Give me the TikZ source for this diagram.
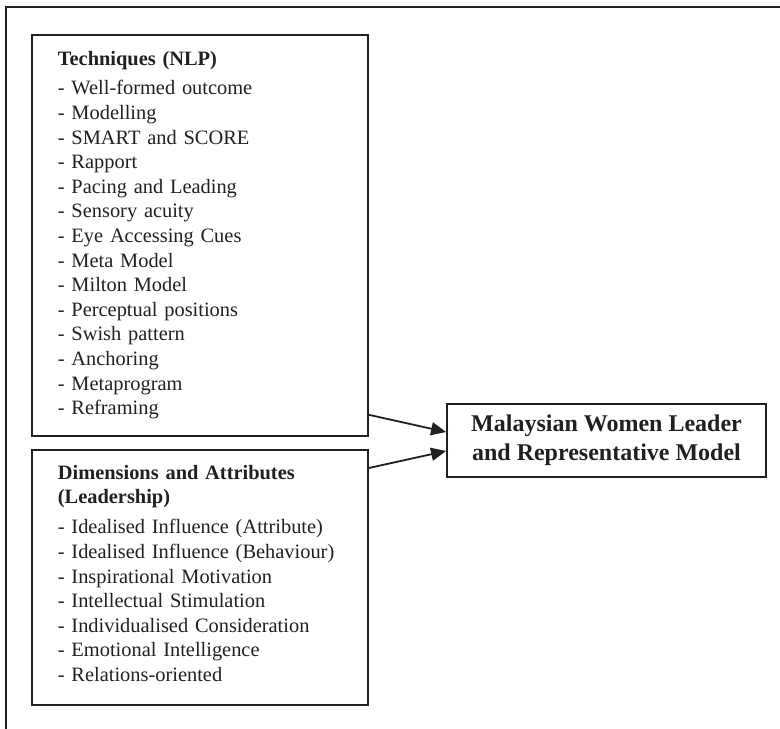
\documentclass[tikz,border=0pt]{standalone}
\usepackage{fontspec}
\setmainfont{Liberation Serif}
\usetikzlibrary{arrows.meta,calc}
\definecolor{ink}{HTML}{231F20}
\begin{document}
\begin{tikzpicture}[x=1pt,y=1pt,
  frame/.style={draw=ink, line width=1.8pt},
  listbox/.style={draw=ink, line width=1.8pt, anchor=north west, align=left,
    inner xsep=26pt, inner ysep=0pt, text width=284pt, minimum width=336pt,
    font=\fontsize{20.4}{24.6}\selectfont, text=ink},
  modelbox/.style={draw=ink, line width=1.8pt, align=center, minimum width=319pt,
    minimum height=73pt, inner sep=0pt, font=\bfseries\fontsize{24}{29}\selectfont, text=ink},
  arr/.style={draw=ink, line width=1.8pt, -{Triangle[length=15pt,width=13pt]}}
]
\useasboundingbox (0,0) rectangle (780,-729);
\draw[frame] (6,-729) -- (6,-7) -- (780,-7);
\node[listbox, minimum height=401pt] (b1) at (31,-34) {\textbf{Techniques (NLP)}\\[4.5pt]
- Well-formed outcome\\
- Modelling\\
- SMART and SCORE\\
- Rapport\\
- Pacing and Leading\\
- Sensory acuity\\
- Eye Accessing Cues\\
- Meta Model\\
- Milton Model\\
- Perceptual positions\\
- Swish pattern\\
- Anchoring\\
- Metaprogram\\
- Reframing};
\node[listbox, minimum height=255pt] (b2) at (31,-449) {\textbf{Dimensions and Attributes}\\
\textbf{(Leadership)}\\[5.4pt]
- Idealised Influence (Attribute)\\
- Idealised Influence (Behaviour)\\
- Inspirational Motivation\\
- Intellectual Stimulation\\
- Individualised Consideration\\
- Emotional Intelligence\\
- Relations-oriented\rule[-8pt]{0pt}{8pt}};
\node[modelbox] (model) at (606.5,-440.5) {Malaysian Women Leader\\and Representative Model};
\draw[arr] ($(b1.south east)+(0,22)$) -- ($(model.west)+(0,8.5)$);
\draw[arr] ($(b2.north east)+(0,-19)$) -- ($(model.west)+(0,-10.5)$);
\end{tikzpicture}
\end{document}
